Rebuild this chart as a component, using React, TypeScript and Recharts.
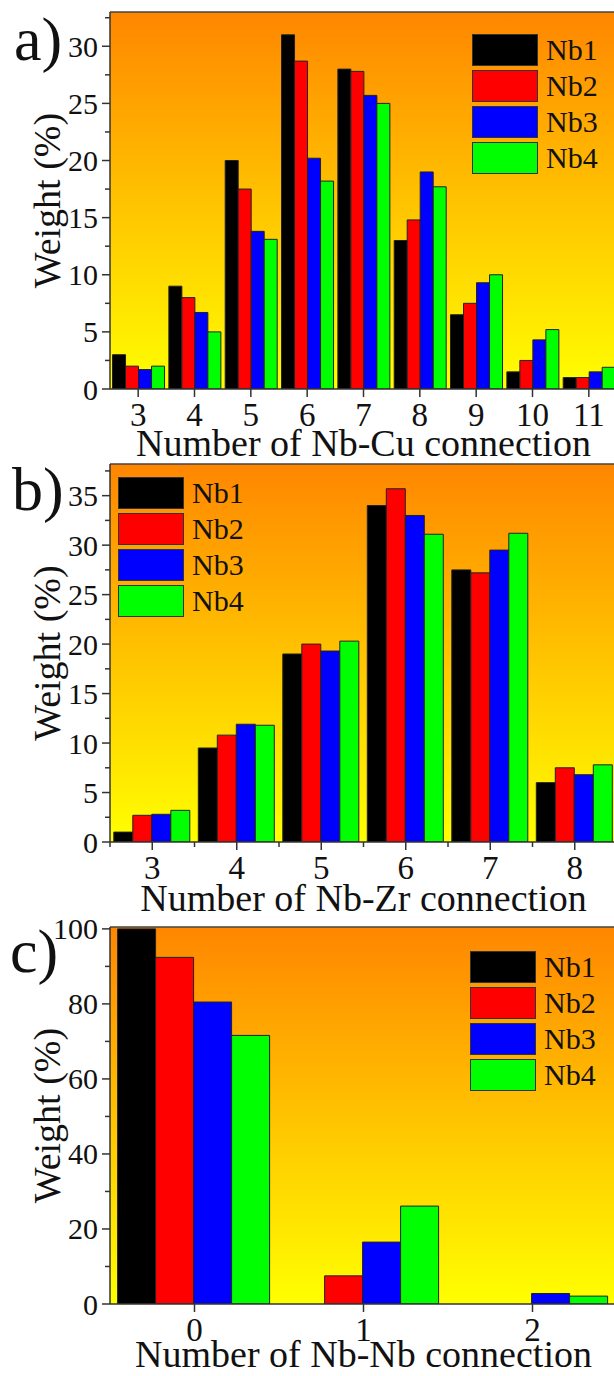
import React from "react";
import { BarChart, Bar, XAxis, YAxis, CartesianGrid, Legend, ReferenceLine } from "recharts";

const SERIES = ["Nb1", "Nb2", "Nb3", "Nb4"];
const COLORS = ["#000000", "#FF0000", "#0000FF", "#00FF00"];
const FONT = "'Liberation Serif', 'Times New Roman', serif";

// a) Nb-Cu
const cuCounts = ["3", "4", "5", "6", "7", "8", "9", "10", "11"];
const cuNb1 = [3.0, 9.0, 20.0, 31.0, 28.0, 13.0, 6.5, 1.5, 1.0];
const cuNb2 = [2.0, 8.0, 17.5, 28.7, 27.8, 14.8, 7.5, 2.5, 1.0];
const cuNb3 = [1.7, 6.7, 13.8, 20.2, 25.7, 19.0, 9.3, 4.3, 1.5];
const cuNb4 = [2.0, 5.0, 13.1, 18.2, 25.0, 17.7, 10.0, 5.2, 1.9];
const cuTicks = [0, 2.5, 5, 7.5, 10, 12.5, 15, 17.5, 20, 22.5, 25, 27.5, 30, 32.5];

// b) Nb-Zr
const zrCounts = ["3", "4", "5", "6", "7", "8"];
const zrNb1 = [1.0, 9.5, 19.0, 34.0, 27.5, 6.0];
const zrNb2 = [2.7, 10.8, 20.0, 35.7, 27.2, 7.5];
const zrNb3 = [2.8, 11.9, 19.3, 33.0, 29.5, 6.8];
const zrNb4 = [3.2, 11.8, 20.3, 31.1, 31.2, 7.8];
const zrTicks = [0, 2.5, 5, 7.5, 10, 12.5, 15, 17.5, 20, 22.5, 25, 27.5, 30, 32.5, 35, 37.5];

// c) Nb-Nb
const nbCounts = ["0", "1", "2"];
const nbNb1 = [100, 0, 0];
const nbNb2 = [92.4, 7.5, 0];
const nbNb3 = [80.5, 16.5, 2.8];
const nbNb4 = [71.6, 26.1, 2.1];
const nbTicks = [0, 10, 20, 30, 40, 50, 60, 70, 80, 90, 100];

const rows = (cats: string[], a: number[], b: number[], c: number[], d: number[]) =>
  cats.map((n, i) => ({ n, Nb1: a[i], Nb2: b[i], Nb3: c[i], Nb4: d[i] }));

const CHART_W = 618;
const PLOT_LEFT = 110;
const PLOT_W = CHART_W - PLOT_LEFT - 1;

function LegendBox({ left, top }: { left: number; top: number }) {
  return (
    <div style={{ position: "absolute", left, top, fontFamily: FONT }}>
      {SERIES.map((s, i) => (
        <div key={s} style={{ display: "flex", alignItems: "center", height: 36 }}>
          <div style={{ width: 64, height: 30, background: COLORS[i], border: "1px solid #333" }} />
          <span style={{ fontSize: 30, marginLeft: 8, color: "#111", lineHeight: "30px" }}>{s}</span>
        </div>
      ))}
    </div>
  );
}

function Panel(props: any) {
  const { data, top, ticks, major, legend, title, titleDy, height, marginTop, plotH, minorX, gid } = props;
  const band = PLOT_W / data.length;

  const yTick = (p: any) => {
    const v = p.payload.value;
    const isMajor = Math.abs(v / major - Math.round(v / major)) < 1e-6;
    return (
      <g>
        <line x1={p.x - (isMajor ? 8 : 5)} y1={p.y} x2={p.x} y2={p.y} stroke="#333" strokeWidth={1.5} />
        {isMajor && (
          <text x={p.x - 12} y={p.y} dy="0.35em" textAnchor="end" fontSize={30} fontFamily={FONT} fill="#111">
            {v}
          </text>
        )}
      </g>
    );
  };

  const xTick = (p: any) => (
    <g>
      <line x1={p.x} y1={p.y} x2={p.x} y2={p.y + 8} stroke="#333" strokeWidth={1.5} />
      {minorX && <line x1={p.x - band / 2} y1={p.y} x2={p.x - band / 2} y2={p.y + 5} stroke="#333" strokeWidth={1.5} />}
      <text x={p.x} y={p.y + 25} dy="0.35em" textAnchor="middle" fontSize={33} fontFamily={FONT} fill="#111">
        {p.payload.value}
      </text>
    </g>
  );

  const yLabel = (p: any) => {
    const vb = p.viewBox;
    const cy = vb.y + vb.height / 2;
    return (
      <text x={47} y={cy} transform={`rotate(-90 47 ${cy})`} dy="0.35em" textAnchor="middle" fontSize={38} fontFamily={FONT} fill="#111">
        Weight (%)
      </text>
    );
  };

  const xLabel = (p: any) => {
    const vb = p.viewBox;
    return (
      <text x={vb.x + vb.width / 2} y={vb.y + titleDy} dy="0.35em" textAnchor="middle" fontSize={38} fontFamily={FONT} fill="#111">
        {title}
      </text>
    );
  };

  return (
    <BarChart width={CHART_W} height={height} data={data} margin={{ top: marginTop, right: 1, bottom: 0, left: 0 }} barCategoryGap="4.5%" barGap={0}>
      <defs>
        <linearGradient id={gid} x1="0" y1="0" x2="0" y2="1">
          <stop offset="0" stopColor="#FF8600" />
          <stop offset="1" stopColor="#FFFF00" />
        </linearGradient>
      </defs>
      <CartesianGrid fill={`url(#${gid})`} fillOpacity={1} horizontal={false} vertical={false} stroke="none" />
      <XAxis dataKey="n" height={height - marginTop - plotH} interval={0} tickSize={0} tickMargin={0} tickLine={false} tick={xTick} axisLine={{ stroke: "#333", strokeWidth: 1.5 }} label={xLabel} />
      <YAxis width={PLOT_LEFT} type="number" domain={[0, top]} ticks={ticks} interval={0} allowDataOverflow tickSize={0} tickMargin={0} tickLine={false} tick={yTick} axisLine={{ stroke: "#333", strokeWidth: 1.5 }} label={yLabel} />
      <ReferenceLine y={top} stroke="#444" strokeWidth={1.5} />
      {SERIES.map((s, i) => (
        <Bar key={s} dataKey={s} fill={COLORS[i]} stroke="#222" strokeWidth={1} isAnimationActive={false} />
      ))}
      <Legend layout="vertical" align="center" verticalAlign="middle" wrapperStyle={{ left: 0, top: 0, width: 0, height: 0 }} content={() => <LegendBox left={legend[0]} top={legend[1]} />} />
    </BarChart>
  );
}

export default function App() {
  return (
    <div style={{ position: "absolute", left: 0, top: 0, width: 614, height: 1376, overflow: "hidden", background: "#fff" }}>
      <div style={{ position: "absolute", left: 0, top: 0 }}>
        <Panel data={rows(cuCounts, cuNb1, cuNb2, cuNb3, cuNb4)} top={33} ticks={cuTicks} major={5} legend={[472, 32]} title="Number of Nb-Cu connection" titleDy={54} height={472} marginTop={12} plotH={377} gid="gA" />
      </div>
      <div style={{ position: "absolute", left: 0, top: 460 }}>
        <Panel data={rows(zrCounts, zrNb1, zrNb2, zrNb3, zrNb4)} top={38.2} ticks={zrTicks} major={5} legend={[118, 15]} title="Number of Nb-Zr connection" titleDy={56} height={470} marginTop={4} plotH={378} minorX gid="gB" />
      </div>
      <div style={{ position: "absolute", left: 0, top: 900 }}>
        <Panel data={rows(nbCounts, nbNb1, nbNb2, nbNb3, nbNb4)} top={100.5} ticks={nbTicks} major={20} legend={[470, 49]} title="Number of Nb-Nb connection" titleDy={50} height={476} marginTop={27} plotH={377} gid="gC" />
      </div>
      <svg width={614} height={1376} style={{ position: "absolute", left: 0, top: 0, pointerEvents: "none" }}>
        <text x={14} y={60} fontSize={62} fontFamily={FONT} fill="#111">a)</text>
        <text x={12} y={510} fontSize={62} fontFamily={FONT} fill="#111">b)</text>
        <text x={10} y={972} fontSize={62} fontFamily={FONT} fill="#111">c)</text>
      </svg>
    </div>
  );
}
